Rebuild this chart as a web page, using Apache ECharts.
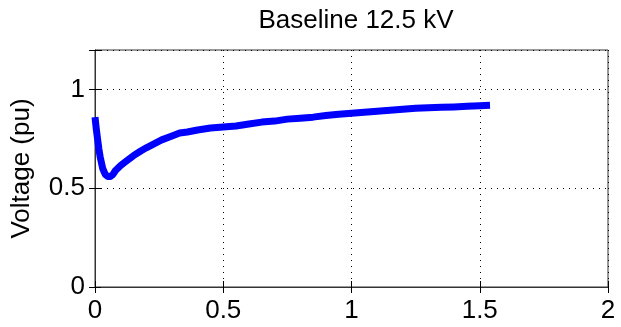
<!DOCTYPE html>
<html>
<head>
<meta charset="utf-8">
<script src="https://cdn.jsdelivr.net/npm/echarts@6/dist/echarts.min.js"></script>
<style>html,body{margin:0;padding:0;background:#fff}#c{width:621px;height:327px}</style>
</head>
<body>
<div id="c"></div>
<script>
var titleText = 'Baseline 12.5 kV';
var yName = 'Voltage (pu)';
var xTicks = [0, 0.5, 1, 1.5, 2];
var yTicks = [0, 0.5, 1];
var distance = [0, 0.005, 0.01, 0.015, 0.02, 0.03, 0.04, 0.05, 0.06, 0.07, 0.08, 0.1, 0.12, 0.15, 0.18, 0.2, 0.23, 0.26, 0.3, 0.33, 0.36, 0.4, 0.45, 0.5, 0.55, 0.6, 0.65, 0.7, 0.75, 0.8, 0.85, 0.9, 0.95, 1.0, 1.05, 1.1, 1.15, 1.2, 1.25, 1.3, 1.35, 1.4, 1.45, 1.5, 1.54];
var voltage = [0.86, 0.80, 0.75, 0.70, 0.66, 0.60, 0.57, 0.56, 0.56, 0.57, 0.59, 0.615, 0.635, 0.665, 0.69, 0.705, 0.725, 0.745, 0.765, 0.78, 0.785, 0.795, 0.805, 0.81, 0.815, 0.825, 0.835, 0.84, 0.85, 0.855, 0.86, 0.868, 0.875, 0.88, 0.885, 0.89, 0.895, 0.90, 0.905, 0.908, 0.91, 0.912, 0.915, 0.918, 0.92];

var pts = distance.map(function (d, i) { return [d, voltage[i]]; });
var font = 'Liberation Sans, Arial, Helvetica, sans-serif';
var axisCol = '#333';
function inTicks(v, arr) { for (var i = 0; i < arr.length; i++) if (Math.abs(arr[i] - v) < 1e-9) return true; return false; }

var chart = echarts.init(document.getElementById('c'), null, {renderer: 'canvas'});
chart.setOption({
  animation: false,
  backgroundColor: '#fff',
  title: {
    text: titleText, left: 351, top: 3, textAlign: 'center',
    textStyle: {fontFamily: font, fontSize: 26, fontWeight: 'normal', color: '#000'}
  },
  grid: {left: 95, right: 13, top: 50, bottom: 40, show: true, borderColor: axisCol, borderWidth: 1, backgroundColor: '#fff'},
  xAxis: [{
    type: 'value', min: 0, max: 2, interval: 0.5, position: 'bottom',
    axisLine: {show: true, lineStyle: {color: axisCol, width: 1}},
    axisTick: {show: true, inside: true, length: 6, lineStyle: {color: '#000'}},
    axisLabel: {fontFamily: font, fontSize: 26, color: '#000', margin: 11,
      formatter: function (v) { return inTicks(v, xTicks) ? String(v) : ''; }},
    splitLine: {show: true, lineStyle: {color: '#000', type: [1, 5], width: 1}}
  }, {
    type: 'value', min: 0, max: 2, interval: 0.5, position: 'top',
    axisLine: {show: true, lineStyle: {color: axisCol, width: 1}},
    axisTick: {show: true, inside: true, length: 6, lineStyle: {color: '#000'}},
    axisLabel: {show: false}, splitLine: {show: false}
  }],
  yAxis: [{
    type: 'value', min: 0, max: 1.2, interval: 0.5, position: 'left',
    name: yName, nameLocation: 'middle', nameGap: 60,
    nameTextStyle: {fontFamily: font, fontSize: 26, color: '#000'},
    axisLine: {show: true, lineStyle: {color: axisCol, width: 1}},
    axisTick: {show: true, inside: true, length: 6, lineStyle: {color: '#000'}},
    axisLabel: {fontFamily: font, fontSize: 26, color: '#000', margin: 10,
      formatter: function (v) { return inTicks(v, yTicks) ? String(v) : ''; }},
    splitLine: {show: true, lineStyle: {color: '#000', type: [1, 5], width: 1}}
  }, {
    type: 'value', min: 0, max: 1.2, interval: 0.5, position: 'right',
    axisLine: {show: true, lineStyle: {color: axisCol, width: 1}},
    axisTick: {show: true, inside: true, length: 6, lineStyle: {color: '#000'}},
    axisLabel: {show: false}, splitLine: {show: false}
  }],
  series: [{
    type: 'line', data: pts, xAxisIndex: 0, yAxisIndex: 0,
    showSymbol: false, smooth: false,
    lineStyle: {color: '#0000ff', width: 7, cap: 'butt', join: 'round'}
  }]
});
</script>
</body>
</html>
